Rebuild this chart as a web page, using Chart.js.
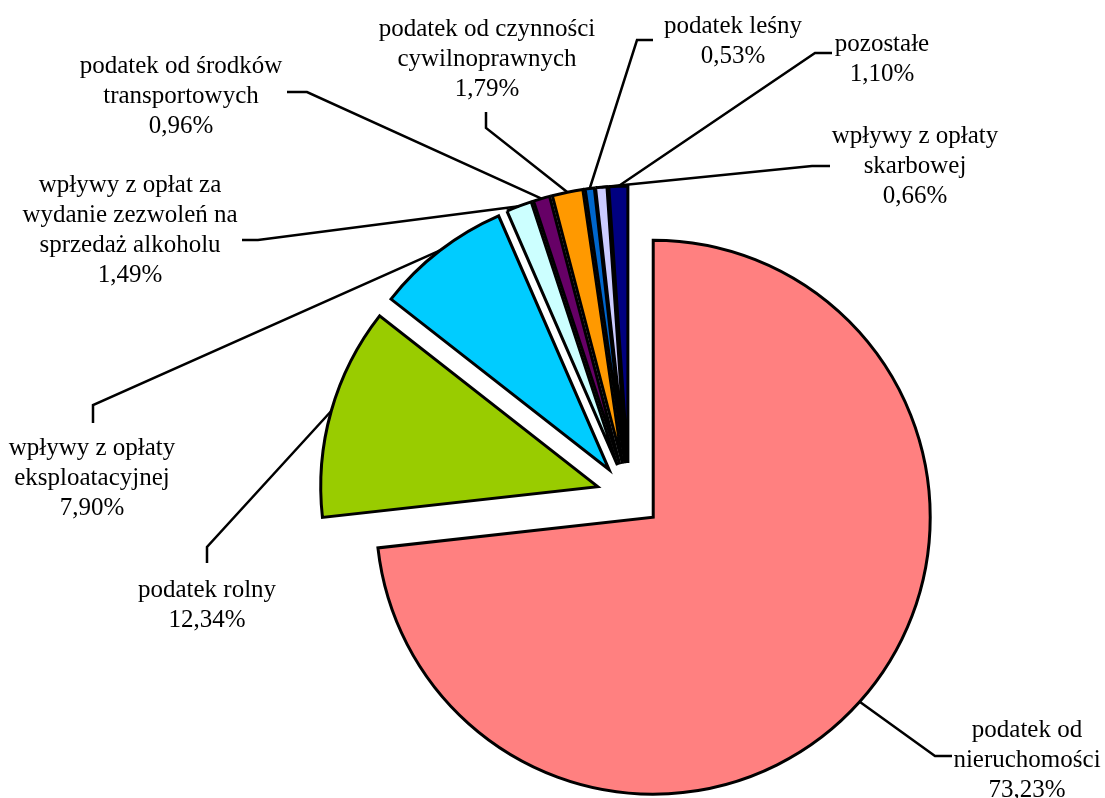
<!DOCTYPE html>
<html>
<head>
<meta charset="utf-8">
<script src="https://cdn.jsdelivr.net/npm/chart.js@4.4.0/dist/chart.umd.min.js"></script>
<style>
  html, body { margin: 0; padding: 0; background: #fff; }
  #wrap { width: 1105px; height: 798px; }
</style>
</head>
<body>
<div id="wrap"><canvas id="chart"></canvas></div>
<script>
// Slice data, clockwise from 12 o'clock
const categoryLines = [
  ["podatek od", "nieruchomości"],
  ["podatek rolny"],
  ["wpływy z opłaty", "eksploatacyjnej"],
  ["wpływy z opłat za", "wydanie zezwoleń na", "sprzedaż alkoholu"],
  ["podatek od środków", "transportowych"],
  ["podatek od czynności", "cywilnoprawnych"],
  ["podatek leśny"],
  ["wpływy z opłaty", "skarbowej"],
  ["pozostałe"],
]
const categories = categoryLines.map((lines) => lines.join(" "))
const shares = [73.23, 12.34, 7.90, 1.49, 0.96, 1.79, 0.53, 0.66, 1.10]
const sliceColors = ["#FF8080", "#99CC00", "#00CCFF", "#CCFFFF", "#660066", "#FF9900", "#0066CC", "#CCCCFF", "#000080"]

// Where each label sits: centre x, first baseline, leader elbow and leader end
const labelLayout = [
  { x: 1027, y: 737, elbow: [935, 756], end: [952, 756] },
  { x: 207, y: 597, elbow: [207, 547], end: [207, 563] },
  { x: 92, y: 455, elbow: [93, 405], end: [93, 423] },
  { x: 130, y: 192, elbow: [258, 240], end: [242, 240] },
  { x: 181, y: 73, elbow: [307, 92], end: [287, 92] },
  { x: 487, y: 36, elbow: [486, 128], end: [486, 112] },
  { x: 733, y: 33, elbow: [637, 40], end: [653, 40] },
  { x: 915, y: 143, elbow: [812, 166], end: [830, 166] },
  { x: 882, y: 51, elbow: [815, 53], end: [832, 53] },
]

const EXPLODE = 32.5
const LINE_HEIGHT = 30
const FONT = '25px "Liberation Serif", "Times New Roman", serif'

const formatPercent = (v) => v.toFixed(2).replace(".", ",") + "%"

// Push every slice out from the centre along its middle angle
const explodePlugin = {
  id: "explode",
  beforeDatasetsDraw(chart) {
    const area = chart.chartArea
    const cx = (area.left + area.right) / 2
    const cy = (area.top + area.bottom) / 2
    chart.getDatasetMeta(0).data.forEach((arc) => {
      const mid = (arc.startAngle + arc.endAngle) / 2
      arc.x = cx + Math.cos(mid) * EXPLODE
      arc.y = cy + Math.sin(mid) * EXPLODE
    })
  },
}

// Labels with leader lines
const labelPlugin = {
  id: "sliceLabels",
  afterDatasetsDraw(chart) {
    const ctx = chart.ctx
    const arcs = chart.getDatasetMeta(0).data
    ctx.save()
    ctx.strokeStyle = "#000"
    ctx.lineWidth = 2.5
    ctx.lineJoin = "miter"
    arcs.forEach((arc, i) => {
      const pos = labelLayout[i]
      const mid = (arc.startAngle + arc.endAngle) / 2
      const tipX = arc.x + Math.cos(mid) * arc.outerRadius
      const tipY = arc.y + Math.sin(mid) * arc.outerRadius
      ctx.beginPath()
      ctx.moveTo(tipX, tipY)
      ctx.lineTo(pos.elbow[0], pos.elbow[1])
      ctx.lineTo(pos.end[0], pos.end[1])
      ctx.stroke()
    })

    ctx.fillStyle = "#000"
    ctx.font = FONT
    ctx.textAlign = "center"
    ctx.textBaseline = "alphabetic"
    arcs.forEach((arc, i) => {
      const pos = labelLayout[i]
      const lines = categoryLines[i].concat([formatPercent(shares[i])])
      lines.forEach((line, k) => {
        ctx.fillText(line, pos.x, pos.y + k * LINE_HEIGHT)
      })
    })
    ctx.restore()
  },
}

new Chart(document.getElementById("chart"), {
  type: "pie",
  data: {
    labels: categories,
    datasets: [
      {
        data: shares,
        backgroundColor: sliceColors,
        borderColor: "#000",
        borderWidth: 3,
        borderJoinStyle: "miter",
        radius: 277,
      },
    ],
  },
  options: {
    responsive: true,
    maintainAspectRatio: false,
    animation: false,
    events: [],
    layout: {
      padding: { left: 153, top: 193, right: 0, bottom: 0 },
    },
    plugins: {
      legend: { display: false },
      tooltip: { enabled: false },
    },
  },
  plugins: [explodePlugin, labelPlugin],
})
</script>
</body>
</html>
